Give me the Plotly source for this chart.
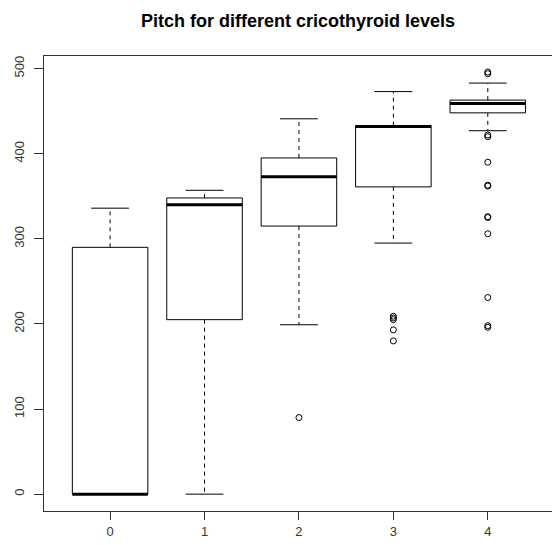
import plotly.graph_objects as go

# ---- data ----
levels = [0, 1, 2, 3, 4]
level_labels = ["0", "1", "2", "3", "4"]
q1 = [0, 205, 315, 361, 448]
median = [0, 340, 373, 432, 459]
q3 = [290, 348, 395, 433, 463]
whisker_low = [0, 0, 199, 295, 427]
whisker_high = [336, 357, 441, 473, 483]
outliers_2 = [90]
outliers_3 = [209, 207, 205, 193, 180]
outliers_4 = [496, 494, 422, 420, 390, 363, 362, 326, 325, 306, 231, 198, 196]

outlier_groups = {2: outliers_2, 3: outliers_3, 4: outliers_4}

BOX_HALF = 0.4
CAP_HALF = 0.2
INK = "black"

fig = go.Figure()

for i, lv in enumerate(levels):
    x0, x1 = lv - BOX_HALF, lv + BOX_HALF
    # dashed whiskers
    for a, b in ((q3[i], whisker_high[i]), (q1[i], whisker_low[i])):
        fig.add_trace(go.Scatter(x=[lv, lv], y=[a, b], mode="lines",
                                 line=dict(color=INK, width=1, dash="4px,4px"),
                                 hoverinfo="skip", showlegend=False))
    # whisker caps
    for w in (whisker_high[i], whisker_low[i]):
        fig.add_trace(go.Scatter(x=[lv - CAP_HALF, lv + CAP_HALF], y=[w, w], mode="lines",
                                 line=dict(color=INK, width=1),
                                 hoverinfo="skip", showlegend=False))
    # box
    fig.add_trace(go.Scatter(x=[x0, x1, x1, x0, x0],
                             y=[q1[i], q1[i], q3[i], q3[i], q1[i]],
                             mode="lines", fill="toself", fillcolor="white",
                             line=dict(color=INK, width=1),
                             hoverinfo="skip", showlegend=False))
    # median
    fig.add_trace(go.Scatter(x=[x0, x1], y=[median[i], median[i]], mode="lines",
                             line=dict(color=INK, width=3),
                             hoverinfo="skip", showlegend=False))

for lv, vals in outlier_groups.items():
    fig.add_trace(go.Scatter(x=[lv] * len(vals), y=vals, mode="markers",
                             marker=dict(symbol="circle-open", size=6,
                                         color=INK, line=dict(width=1, color=INK)),
                             hoverinfo="skip", showlegend=False))

font_family = "Liberation Sans, Arial, sans-serif"

fig.update_layout(
    width=552, height=545,
    margin=dict(l=44, r=0, t=56, b=34),
    paper_bgcolor="white", plot_bgcolor="white",
    font=dict(family=font_family, size=13, color="#333"),
    title=dict(text="<b>Pitch for different cricothyroid levels</b>",
               x=0.5, xref="paper", xanchor="center",
               y=1 - 21 / 545, yref="container", yanchor="middle",
               font=dict(family=font_family, size=18, color="black")),
)

fig.update_xaxes(range=[-0.7, 4.68], tickvals=levels, ticktext=level_labels,
                 showgrid=False, zeroline=False,
                 showline=True, linecolor="#333", linewidth=1, mirror=True,
                 ticks="outside", ticklen=8, tickcolor="#333", tickwidth=1,
                 ticklabelstandoff=0, tickfont=dict(size=13, color="#333"))
fig.update_yaxes(range=[-19.8, 514.8], tickvals=[0, 100, 200, 300, 400, 500],
                 showgrid=False, zeroline=False,
                 showline=True, linecolor="#333", linewidth=1, mirror=False,
                 ticks="outside", ticklen=9, tickcolor="#333", tickwidth=1,
                 tickangle=-90, ticklabelstandoff=5,
                 tickfont=dict(size=13, color="#333"))

fig.write_html("out.html")
